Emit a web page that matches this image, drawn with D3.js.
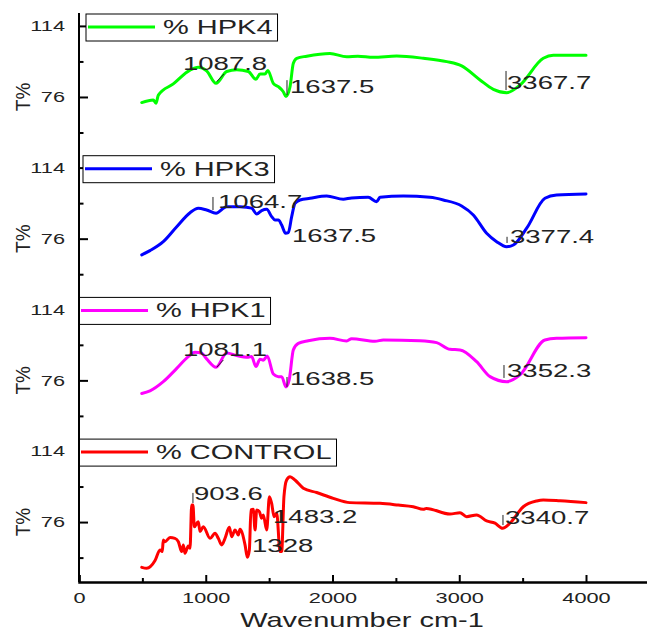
<!DOCTYPE html>
<html>
<head>
<meta charset="utf-8">
<script src="https://cdn.jsdelivr.net/npm/d3@7"></script>
<style>
  body { margin: 0; background: #fff; }
  svg text { font-family: "Liberation Sans", Arial, sans-serif; fill: #222; }
</style>
</head>
<body>
<div id="chart"></div>
<script>
// FTIR spectra (wavenumber cm-1, T%)
var wnHPK4 = [495,586,607,626,744,876,941,1007,1081,1165,1244,1336,1396,1428,1467,1490,1533,1573,1612,1633,1665,1691,1718,1797,1980,2112,2200,2322,2506,2717,2901,3019,3164,3269,3374,3479,3663,3742,4000];
var tHPK4  = [73.0,74.4,72.6,77.0,83.0,90.4,91.9,90.0,83.3,89.6,90.5,89.6,85.5,88.3,88.3,90.2,83.3,81.5,78.8,76.3,81.5,94.0,96.7,97.8,99.2,97.5,97.8,97.2,97.9,96.7,94.9,92.6,85.1,80.1,78.3,82.4,96.7,98.3,98.3];

var wnHPK3 = [495,560,665,771,876,941,1007,1081,1165,1270,1323,1362,1402,1441,1481,1520,1546,1573,1599,1630,1651,1678,1704,1744,1823,1954,2085,2150,2282,2348,2375,2559,2769,2874,3019,3111,3216,3295,3374,3427,3532,3676,3768,4000];
var tHPK3  = [67.3,69.6,74.4,82.4,89.9,92.3,91.3,89.6,93.1,93.1,92.8,92.3,89.2,91.0,91.7,87.8,86.0,86.0,83.3,78.9,79.2,87.8,94.9,96.7,97.6,98.8,97.1,97.8,98.1,95.8,98.1,98.8,98.1,96.7,93.5,88.7,78.9,74.4,71.7,72.6,81.6,97.6,99.4,99.9];

var wnHPK1 = [495,560,665,771,862,915,968,1007,1081,1165,1244,1336,1362,1396,1428,1454,1485,1533,1573,1599,1633,1659,1691,1730,1809,1980,2112,2151,2335,2401,2690,2822,2927,3006,3137,3243,3374,3479,3676,3768,4000];
var tHPK1  = [69.0,70.4,75.3,82.4,88.7,91.0,90.5,87.5,83.0,90.7,89.3,88.4,88.7,83.4,87.3,86.8,89.0,79.4,78.0,78.0,72.5,76.5,92.3,95.8,97.2,98.5,97.1,98.3,96.9,97.6,97.2,96.2,92.6,92.3,86.0,78.0,75.3,78.9,97.6,98.5,98.8];

var wnControl = [495,534,600,639,657,665,678,718,757,784,810,823,836,862,876,889,899,910,941,955,981,1034,1073,1099,1126,1152,1186,1205,1231,1257,1270,1310,1328,1344,1357,1375,1389,1402,1423,1441,1454,1481,1502,1520,1539,1560,1586,1599,1617,1638,1665,1704,1770,1875,2006,2137,2375,2519,2637,2717,2740,2927,3006,3058,3137,3216,3282,3342,3400,3505,3611,3663,3795,4000];
var tControl  = [51.8,51.3,55.4,61.1,60.2,66.4,65.5,67.7,67.3,65.5,60.2,63.8,59.3,63.2,62.0,85.1,85.1,73.5,76.2,71.0,73.5,67.3,70.0,67.3,63.8,67.3,73.2,68.2,71.8,69.1,72.1,63.8,57.2,61.1,82.5,82.8,71.8,82.5,81.6,78.0,79.8,71.8,89.6,86.0,78.9,80.7,60.2,60.2,89.6,98.5,100.3,98.5,94.1,91.8,88.7,86.4,86.0,85.1,84.2,82.8,83.3,80.3,81.0,78.9,79.8,76.6,75.4,72.7,75.4,84.2,87.3,87.8,87.4,86.4];

// peak labels: text, text start (cm-1), text baseline (T%), leader line [w1,t1,w2,t2]
var annHPK4 = [
  ["1087.8", 820, 90.4, [1086,84.2,1144,88.3]],
  ["1637.5", 1665, 78.1, [1641,77,1641,85]],
  ["3367.7", 3377, 80.3, [3369,79.7,3369,89.9]]
];
var annHPK3 = [
  ["1064.7", 1097, 92.4, [1057,91.3,1057,98.3]],
  ["1637.5", 1680, 74.2, null],
  ["3377.4", 3400, 73.7, [3377,73.7,3377,77]]
];
var annHPK1 = [
  ["1081.1", 820, 89.0, [1086,83,1139,86.9]],
  ["1638.5", 1665, 73.5, [1641,72.5,1641,77.8]],
  ["3352.3", 3377, 77.8, [3353,77.3,3353,84.2]]
];
var annControl = [
  ["903.6", 907, 87.8, [899,86.2,899,91.6]],
  ["1483.2", 1531, 75.5, null],
  ["1328", 1365, 60.0, null],
  ["3340.7", 3361, 75.0, [3345,74.4,3345,79.8]]
];

var names = ["% HPK4", "% HPK3", "% HPK1", "% CONTROL"];
var colors = ["#00ff00", "#0000ff", "#ff00ff", "#ff0000"];
var xMajor = [0, 1000, 2000, 3000, 4000];
var xMinor = [500, 1500, 2500, 3500];
var yMajor = [76, 114];
var yMinor = [57, 95];

var series = [
  {wn: wnHPK4, t: tHPK4, ann: annHPK4},
  {wn: wnHPK3, t: tHPK3, ann: annHPK3},
  {wn: wnHPK1, t: tHPK1, ann: annHPK1},
  {wn: wnControl, t: tControl, ann: annControl}
];

// text in the picture is stretched sideways
var SX = 1.45;
var W = 647, H = 632;
var left = 79, bottom = 582;
var panelH = 141, panelStep = 141.7, firstTop = 16;
var legendX = [86, 83, 79, 79];

var svg = d3.select("#chart").append("svg")
  .attr("width", W).attr("height", H);

var x = d3.scaleLinear().domain([0, 4500]).range([left, left + 4500 * 0.12675]);

function stext(g, px, py, str, size, anchor) {
  return g.append("text")
    .attr("transform", "translate(" + px + "," + py + ") scale(" + SX + ",1)")
    .attr("text-anchor", anchor || "start")
    .style("font-size", size + "px")
    .text(str);
}

series.forEach(function(s, i) {
  var top = firstTop + i * panelStep;
  var y = d3.scaleLinear().domain([43.9, 119.3]).range([top + panelH, top]);
  var g = svg.append("g");

  // y axis ticks (inward)
  var ya = g.append("g").attr("transform", "translate(" + left + ",0)")
    .call(d3.axisLeft(y).tickValues(yMajor).tickSize(-9).tickPadding(14));
  ya.select(".domain").remove();
  ya.selectAll("line").attr("stroke", "#000").attr("stroke-width", 2);
  ya.selectAll("text")
    .attr("x", -14 / SX)
    .attr("transform", "scale(" + SX + ",1)")
    .style("font-size", "15px")
    .attr("fill", "#222");
  var ym = g.append("g").attr("transform", "translate(" + left + ",0)")
    .call(d3.axisLeft(y).tickValues(yMinor).tickSize(-4.5).tickFormat(""));
  ym.select(".domain").remove();
  ym.selectAll("line").attr("stroke", "#000").attr("stroke-width", 2);

  // T% label
  g.append("text")
    .attr("transform", "translate(30," + y(76) + ") rotate(-90) scale(1,1.1)")
    .attr("text-anchor", "middle")
    .style("font-size", "19px")
    .text("T%");

  // spectrum
  var pts = s.wn.map(function(w, k) { return [w, s.t[k]]; });
  var line = d3.line()
    .x(function(d) { return x(d[0]); })
    .y(function(d) { return y(d[1]); })
    .curve(d3.curveMonotoneX);
  g.append("path").datum(pts)
    .attr("d", line)
    .attr("fill", "none")
    .attr("stroke", colors[i])
    .attr("stroke-width", 3)
    .attr("stroke-linejoin", "round")
    .attr("stroke-linecap", "round");

  // peak labels
  s.ann.forEach(function(a) {
    if (a[3]) {
      g.append("line")
        .attr("x1", x(a[3][0])).attr("y1", y(a[3][1]))
        .attr("x2", x(a[3][2])).attr("y2", y(a[3][3]))
        .attr("stroke", "#222").attr("stroke-width", 1);
    }
    stext(g, x(a[1]), y(a[2]), a[0], 19);
  });

  // legend
  var lx = legendX[i], ly = top - 2;
  var box = g.append("rect")
    .attr("x", lx).attr("y", ly).attr("height", 27)
    .attr("fill", "#fff").attr("stroke", "#000").attr("stroke-width", 1);
  g.append("line")
    .attr("x1", lx + 2).attr("x2", lx + 69)
    .attr("y1", ly + 13).attr("y2", ly + 13)
    .attr("stroke", colors[i]).attr("stroke-width", 3);
  var lt = stext(g, lx + 77, ly + 20, names[i], 20);
  var tw = lt.node().getComputedTextLength() * SX;
  box.attr("width", 77 + tw + 5);
});

// left axis line running through all panels
svg.append("line")
  .attr("x1", left).attr("x2", left)
  .attr("y1", 13).attr("y2", bottom)
  .attr("stroke", "#000").attr("stroke-width", 2);

// x axis
var xa = svg.append("g").attr("transform", "translate(0," + bottom + ")")
  .call(d3.axisBottom(x).tickValues(xMajor).tickSize(-7).tickPadding(10).tickFormat(d3.format("d")));
xa.select(".domain").attr("stroke", "#000").attr("stroke-width", 2.5);
xa.selectAll("line").attr("stroke", "#000").attr("stroke-width", 2);
xa.selectAll("text")
  .attr("transform", "scale(" + SX + ",1)")
  .style("font-size", "15px")
  .attr("fill", "#222");
var xm = svg.append("g").attr("transform", "translate(0," + bottom + ")")
  .call(d3.axisBottom(x).tickValues(xMinor).tickSize(-4).tickFormat(""));
xm.select(".domain").remove();
xm.selectAll("line").attr("stroke", "#000").attr("stroke-width", 2);

stext(svg, 362, 627, "Wavenumber cm-1", 20, "middle");
</script>
</body>
</html>
